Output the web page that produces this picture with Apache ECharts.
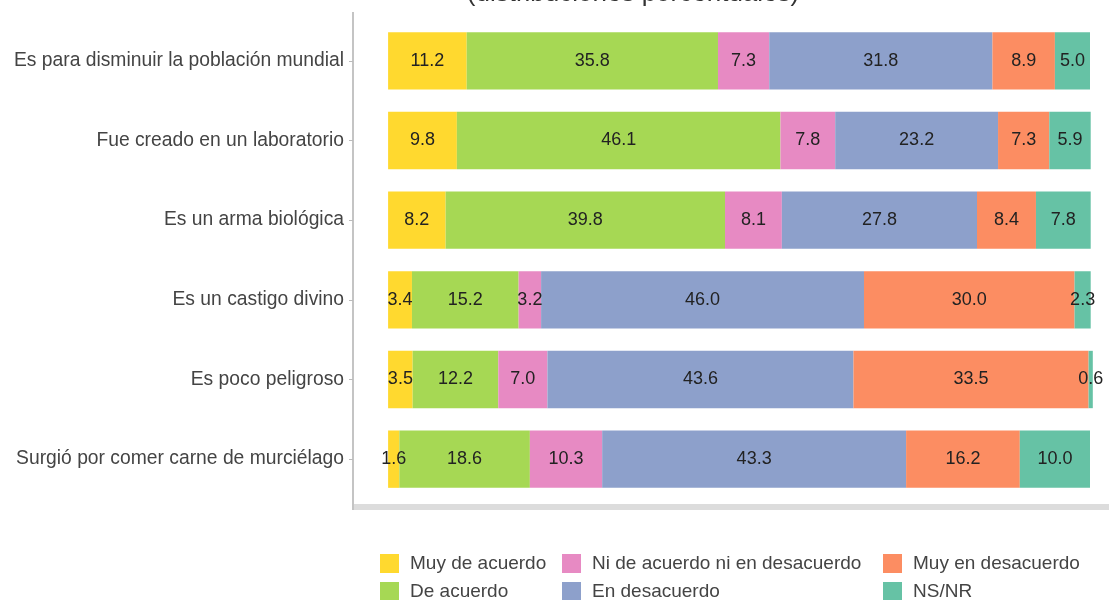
<!DOCTYPE html>
<html>
<head>
<meta charset="utf-8">
<script src="https://cdn.jsdelivr.net/npm/echarts@6/dist/echarts.min.js"></script>
<style>html,body{margin:0;padding:0;background:#fff}#c{width:1109px;height:600px}</style>
</head>
<body>
<div id="c"></div>
<script>
const categories = [
  'Es para disminuir la población mundial',
  'Fue creado en un laboratorio',
  'Es un arma biológica',
  'Es un castigo divino',
  'Es poco peligroso',
  'Surgió por comer carne de murciélago'
];
const seriesNames = ['Muy de acuerdo','De acuerdo','Ni de acuerdo ni en desacuerdo','En desacuerdo','Muy en desacuerdo','NS/NR'];
const muyDeAcuerdo     = [11.2, 9.8, 8.2, 3.4, 3.5, 1.6];
const deAcuerdo        = [35.8, 46.1, 39.8, 15.2, 12.2, 18.6];
const niNi             = [7.3, 7.8, 8.1, 3.2, 7.0, 10.3];
const enDesacuerdo     = [31.8, 23.2, 27.8, 46.0, 43.6, 43.3];
const muyEnDesacuerdo  = [8.9, 7.3, 8.4, 30.0, 33.5, 16.2];
const nsnr             = [5.0, 5.9, 7.8, 2.3, 0.6, 10.0];
const colors = ['#FFD92F','#A6D854','#E78AC3','#8DA0CB','#FC8D62','#66C2A5'];
const values = [muyDeAcuerdo, deAcuerdo, niNi, enDesacuerdo, muyEnDesacuerdo, nsnr];

const chart = echarts.init(document.getElementById('c'));
const font = 'Liberation Sans, Arial, sans-serif';
function legendAt(left, names) {
  return {
    orient: 'vertical', left: left, top: 549, height: 70, itemWidth: 19, itemHeight: 19, itemGap: 9,
    icon: 'rect', data: names,
    textStyle: {fontSize: 19, color: '#444', fontFamily: font, lineHeight: 19, padding: [0, 0, 0, 6]}
  };
}
chart.setOption({
  animation: false,
  color: colors,
  title: {
    text: '(distribuciones porcentuales)', left: 628, textAlign: 'center', top: -24,
    textStyle: {fontSize: 26, fontWeight: 'normal', color: '#333', fontFamily: font}
  },
  graphic: [
    {type: 'rect', shape: {x: 352, y: 12, width: 2, height: 498}, style: {fill: '#c4c4c4'}, silent: true},
    {type: 'rect', shape: {x: 354, y: 504, width: 755, height: 6}, style: {fill: '#dcdcdc'}, silent: true}
  ],
  legend: [
    legendAt(375, [seriesNames[0], seriesNames[1]]),
    legendAt(557, [seriesNames[2], seriesNames[3]]),
    legendAt(878, [seriesNames[4], seriesNames[5]])
  ],
  grid: {left: 353, right: 19, top: 21, bottom: 101, containLabel: false},
  xAxis: {
    type: 'value', min: -5, max: 100, show: false
  },
  yAxis: {
    type: 'category', data: categories, inverse: true,
    axisLine: {show: false, onZero: false},
    axisTick: {show: true, length: 4, alignWithLabel: true, lineStyle: {color: '#bbb'}},
    axisLabel: {fontSize: 19.3, color: '#444', fontFamily: font, margin: 9},
    splitLine: {show: false}
  },
  series: seriesNames.map((n, i) => ({
    name: n, type: 'bar', stack: 'total', barWidth: '72%', clip: false,
    data: values[i],
    itemStyle: {color: colors[i]},
    label: {
      show: true, position: 'inside', color: '#222', fontSize: 18, fontFamily: font,
      formatter: p => p.value.toFixed(1)
    }
  }))
});
</script>
</body>
</html>
